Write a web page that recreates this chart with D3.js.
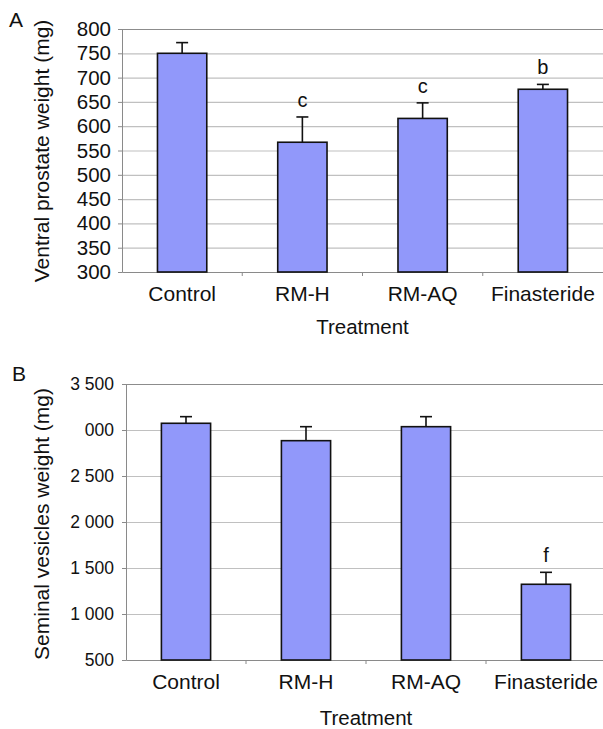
<!DOCTYPE html>
<meta charset="utf-8">
<style>
    body { margin: 0; background: #fff; }
    svg { display: block; font-family: "Liberation Sans", Arial, sans-serif; }
</style>
<script src="https://d3js.org/d3.v7.min.js"></script>
<body>
<div id="chart"></div>
<script>

    // treatments (same for both panels)
    var treatments = ["Control", "RM-H", "RM-AQ", "Finasteride"];

    // panel A: ventral prostate weight (mg)
    var prostateMean = [750, 567, 616, 676];
    var prostateErr = [22, 52, 32, 10];
    var prostateLetters = ["", "c", "c", "b"];
    var prostateTicks = [300, 350, 400, 450, 500, 550, 600, 650, 700, 750, 800];
    var prostateTickLabels = ["300", "350", "400", "450", "500", "550", "600", "650", "700", "750", "800"];

    // panel B: seminal vesicles weight (mg)
    var vesicleMean = [3073, 2884, 3036, 1323];
    var vesicleErr = [72, 152, 109, 130];
    var vesicleLetters = ["", "", "", "f"];
    var vesicleTicks = [500, 1000, 1500, 2000, 2500, 3000, 3500];
    var vesicleTickLabels = ["500", "1 000", "1 500", "2 000", "2 500", "000", "3 500"];

    var svg = d3.select("#chart")
        .append("svg")
        .attr("width", 603)
        .attr("height", 729);

    function drawPanel(p) {
        var x = d3.scaleBand()
            .domain(treatments)
            .range([p.left, p.right])
            .paddingInner(0.59)
            .paddingOuter(0.295);

        var y = d3.scaleLinear()
            .domain([p.ticks[0], p.ticks[p.ticks.length - 1]])
            .range([p.bottom, p.top]);

        var g = svg.append("g");

        // gridlines
        g.append("g")
            .selectAll("line")
            .data(p.ticks.slice(1))
            .enter()
            .append("line")
            .attr("x1", p.left)
            .attr("x2", p.right)
            .attr("y1", function (d) { return y(d) + 0.5; })
            .attr("y2", function (d) { return y(d) + 0.5; })
            .style("stroke", function (d, i) { return i == p.ticks.length - 2 ? "#8c8c8c" : "#c0c0c0"; })
            .style("stroke-width", 1.2);

        // y axis
        var yAxis = g.append("g")
            .attr("transform", "translate(" + p.left + ",0)")
            .call(d3.axisLeft(y)
                .tickValues(p.ticks)
                .tickSize(4)
                .tickFormat(function (d, i) { return p.tickLabels[i]; }));
        yAxis.select(".domain").style("stroke", "#8a8a8a");
        yAxis.selectAll(".tick line").style("stroke", "#8a8a8a");
        yAxis.selectAll("text")
            .attr("x", -p.tickGap)
            .style("font-size", p.tickFont + "px")
            .style("fill", "#111");

        // x axis
        var xAxis = g.append("g")
            .attr("transform", "translate(0," + p.bottom + ")")
            .call(d3.axisBottom(x).tickSize(0).tickPadding(p.labelPad));
        xAxis.select(".domain").style("stroke", "#8a8a8a");
        xAxis.selectAll("text")
            .style("font-size", "21px")
            .style("fill", "#111");

        // category boundary ticks
        xAxis.selectAll(".sep")
            .data(treatments.slice(1))
            .enter()
            .append("line")
            .attr("class", "sep")
            .attr("x1", function (d) { return x(d) - x.step() * x.paddingInner() / 2; })
            .attr("x2", function (d) { return x(d) - x.step() * x.paddingInner() / 2; })
            .attr("y1", 0)
            .attr("y2", 4)
            .style("stroke", "#8a8a8a");

        // bars
        g.append("g")
            .selectAll("rect")
            .data(p.mean)
            .enter()
            .append("rect")
            .attr("x", function (d, i) { return x(treatments[i]); })
            .attr("y", function (d) { return y(d); })
            .attr("width", x.bandwidth())
            .attr("height", function (d) { return p.bottom - y(d); })
            .style("fill", "#9198fa")
            .style("stroke", "#111")
            .style("stroke-width", 1.6);

        // error bars
        var err = g.append("g")
            .selectAll("g")
            .data(p.mean)
            .enter()
            .append("g")
            .attr("transform", function (d, i) {
                return "translate(" + (x(treatments[i]) + x.bandwidth() / 2) + ",0)";
            });
        err.append("line")
            .attr("y1", function (d) { return y(d); })
            .attr("y2", function (d, i) { return y(d + p.err[i]); })
            .style("stroke", "#111")
            .style("stroke-width", 1.6);
        err.append("line")
            .attr("x1", -6)
            .attr("x2", 6)
            .attr("y1", function (d, i) { return y(d + p.err[i]); })
            .attr("y2", function (d, i) { return y(d + p.err[i]); })
            .style("stroke", "#111")
            .style("stroke-width", 1.6);

        // significance letters
        err.append("text")
            .attr("y", function (d, i) { return y(d + p.err[i]) - 10; })
            .attr("text-anchor", "middle")
            .style("font-size", "20px")
            .style("fill", "#111")
            .text(function (d, i) { return p.letters[i]; });

        // axis titles
        g.append("text")
            .attr("x", (p.left + p.right) / 2)
            .attr("y", p.xTitleY)
            .attr("text-anchor", "middle")
            .style("font-size", "20.5px")
            .style("fill", "#111")
            .text("Treatment");

        g.append("text")
            .attr("transform", "translate(49," + p.yTitleY + ") rotate(-90)")
            .attr("text-anchor", "middle")
            .style("font-size", "21px")
            .style("fill", "#111")
            .text(p.yTitle);

        g.append("text")
            .attr("x", p.panelX)
            .attr("y", p.panelY)
            .style("font-size", "21px")
            .style("fill", "#111")
            .text(p.panel);
    }

    drawPanel({
        panel: "A", panelX: 9, panelY: 27,
        left: 122, right: 603, top: 29, bottom: 272,
        mean: prostateMean, err: prostateErr, letters: prostateLetters,
        ticks: prostateTicks, tickLabels: prostateTickLabels, tickFont: 20.5, tickGap: 11,
        labelPad: 14, xTitleY: 334, yTitleY: 151,
        yTitle: "Ventral prostate weight (mg)"
    });

    drawPanel({
        panel: "B", panelX: 12, panelY: 381,
        left: 126, right: 606, top: 384, bottom: 660,
        mean: vesicleMean, err: vesicleErr, letters: vesicleLetters,
        ticks: vesicleTicks, tickLabels: vesicleTickLabels, tickFont: 17.5, tickGap: 12,
        labelPad: 14, xTitleY: 725, yTitleY: 524,
        yTitle: "Seminal vesicles weight (mg)"
    });

</script>
</body>
